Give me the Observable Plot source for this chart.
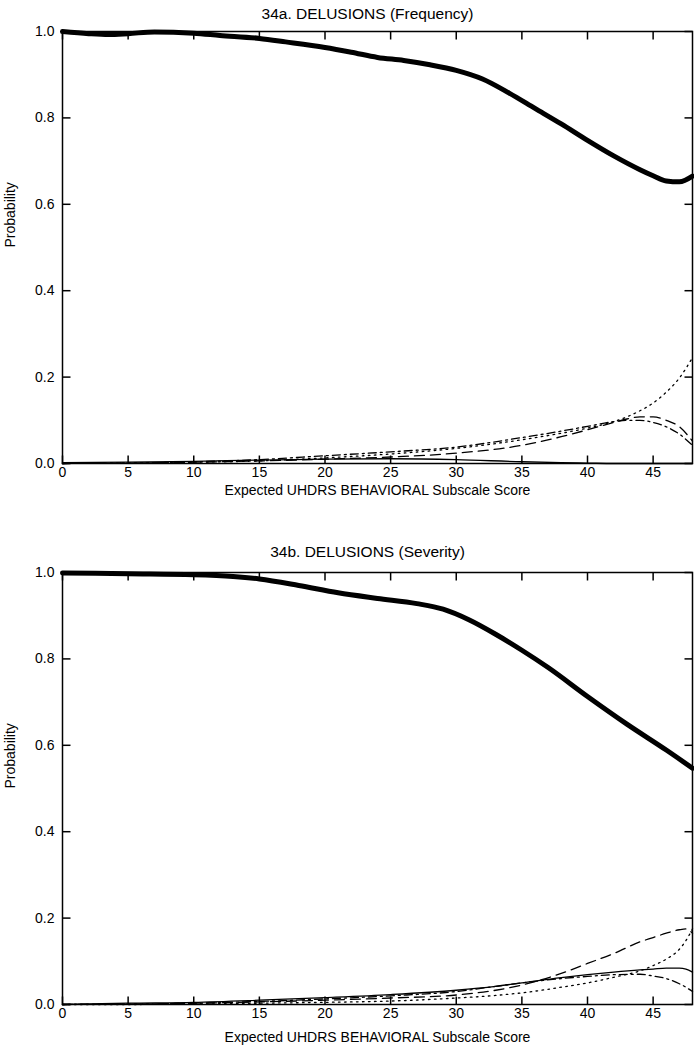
<!DOCTYPE html>
<html><head><meta charset="utf-8">
<script src="https://cdn.jsdelivr.net/npm/d3@7"></script>
<script src="https://cdn.jsdelivr.net/npm/@observablehq/plot@0.6"></script>
<style>body{margin:0;background:#fff} svg{display:block}</style>
</head><body><div id="chart"></div>
<script>
const xTicks = [0, 5, 10, 15, 20, 25, 30, 35, 40, 45];
const yTicks = [0, 0.2, 0.4, 0.6, 0.8, 1.0];
const xLabel = "Expected UHDRS BEHAVIORAL Subscale Score";
const yLabel = "Probability";

// 34a. Frequency
const titleA = "34a. DELUSIONS (Frequency)";
const freqThickX = [0, 2, 3.5, 5, 7, 10, 12, 15, 17, 20, 22, 24, 26, 28, 30, 32, 34, 36, 38, 40, 42, 44, 45, 46, 47, 48];
const freqThick  = [1.0, .995, .993, .995, .999, .996, .991, .984, .976, .963, .952, .94, .933, .923, .91, .89, .858, .822, .786, .748, .712, .68, .666, .654, .652, .665];
const freqX      = [0, 5, 10, 15, 20, 25, 30, 35, 38, 40, 42, 43, 44, 45, 46, 47, 48];
const freqSolid  = [.002, .003, .005, .008, .01, .011, .009, .004, .002, .001, 0, 0, 0, 0, 0, 0, 0];
const freqDashed = [0, .001, .003, .006, .01, .015, .024, .042, .062, .078, .095, .103, .108, .108, .1, .085, .052];
const freqDashDot= [0, .001, .004, .009, .018, .027, .038, .06, .075, .086, .097, .1, .1, .095, .085, .068, .042];
const freqDotted = [0, .001, .003, .006, .013, .022, .035, .055, .07, .082, .097, .108, .122, .14, .165, .198, .245];

// 34b. Severity
const titleB = "34b. DELUSIONS (Severity)";
const sevThickX = [0, 5, 10, 13, 15, 18, 21, 24, 27, 29, 31, 33, 35, 37, 40, 43, 46, 48];
const sevThick  = [.999, .997, .995, .991, .985, .97, .953, .94, .928, .915, .89, .857, .82, .78, .713, .649, .589, .547];
const sevX      = [0, 5, 10, 15, 20, 25, 30, 33, 35, 38, 40, 42, 44, 45, 46, 47, 47.5, 48];
const sevSolid  = [0, .003, .005, .01, .016, .023, .033, .042, .05, .062, .069, .075, .08, .082, .084, .084, .082, .075];
const sevDashed = [0, .001, .003, .006, .01, .015, .022, .033, .045, .072, .095, .118, .145, .155, .165, .173, .175, .165];
const sevDashDot= [0, .001, .003, .007, .013, .02, .03, .042, .05, .06, .065, .069, .07, .066, .06, .048, .04, .03];
const sevDotted = [0, 0, .001, .003, .005, .008, .015, .021, .027, .04, .05, .063, .078, .09, .105, .128, .148, .175];

const X_MAX = 48;

function panel({title, thickX, thick, xs, solid, dashed, dashdot, dotted, height, mt, mb, titleDy, labelDy}) {
  const W = 694, ml = 62, mr = 2, tick = 8;
  const fw = W - ml - mr, fh = height - mt - mb;
  const ty = tick / fh;
  const tx = X_MAX * tick / fw;
  const thickData = thickX.map((x, i) => ({x, y: thick[i]}));
  const series = [
    {vals: solid, dash: null},
    {vals: dashed, dash: "10,6"},
    {vals: dashdot, dash: "8,4,2,4"},
    {vals: dotted, dash: "1.6,4.4"}
  ];
  const thinMarks = series.map(s => Plot.line(xs.map((x, i) => ({x, y: s.vals[i]})), {
    x: "x", y: "y", stroke: "black", strokeWidth: 1.3, curve: "monotone-x",
    strokeDasharray: s.dash
  }));
  const tickData = xTicks.map(t => ({t}));
  const ytickData = yTicks.map(t => ({t}));
  return Plot.plot({
    width: W, height,
    marginLeft: ml, marginRight: mr, marginTop: mt, marginBottom: mb,
    style: {fontFamily: "'Liberation Sans', Arial, sans-serif", fontSize: "14px", color: "black", background: "white", overflow: "visible"},
    x: {domain: [0, X_MAX]},
    y: {domain: [0, 1]},
    marks: [
      ...thinMarks,
      Plot.line(thickData, {x: "x", y: "y", stroke: "black", strokeWidth: 5, curve: "monotone-x"}),
      Plot.link(tickData, {x1: "t", x2: "t", y1: () => 0, y2: () => ty, stroke: "black", strokeWidth: 1.5}),
      Plot.link(tickData, {x1: "t", x2: "t", y1: () => 1 - ty, y2: () => 1, stroke: "black", strokeWidth: 1.5}),
      Plot.link(ytickData, {y1: "t", y2: "t", x1: () => 0, x2: () => tx, stroke: "black", strokeWidth: 1.5}),
      Plot.link(ytickData, {y1: "t", y2: "t", x1: () => X_MAX - tx, x2: () => X_MAX, stroke: "black", strokeWidth: 1.5}),
      Plot.frame({stroke: "black", strokeWidth: 1.5}),
      Plot.axisX(xTicks, {anchor: "bottom", tickSize: 0, tickPadding: 4, tickFormat: "d", label: null, fontSize: 14}),
      Plot.axisY(yTicks, {anchor: "left", tickSize: 0, tickPadding: 8, tickFormat: d3.format(".1f"), label: null, fontSize: 14}),
      Plot.text([title], {frameAnchor: "top", dy: titleDy, dx: -10, fontSize: 15.5}),
      Plot.text([xLabel], {frameAnchor: "bottom", dy: labelDy, fontSize: 14}),
      Plot.text([yLabel], {frameAnchor: "left", dx: -52, rotate: -90, fontSize: 14})
    ]
  });
}

const root = document.getElementById("chart");
root.append(panel({title: titleA, thickX: freqThickX, thick: freqThick, xs: freqX,
  solid: freqSolid, dashed: freqDashed, dashdot: freqDashDot, dotted: freqDotted,
  height: 525, mt: 31, mb: 62, titleDy: -24, labelDy: 31}));
root.append(panel({title: titleB, thickX: sevThickX, thick: sevThick, xs: sevX,
  solid: sevSolid, dashed: sevDashed, dashdot: sevDashDot, dotted: sevDotted,
  height: 525, mt: 47, mb: 46, titleDy: -27, labelDy: 37}));
</script>
</body></html>
